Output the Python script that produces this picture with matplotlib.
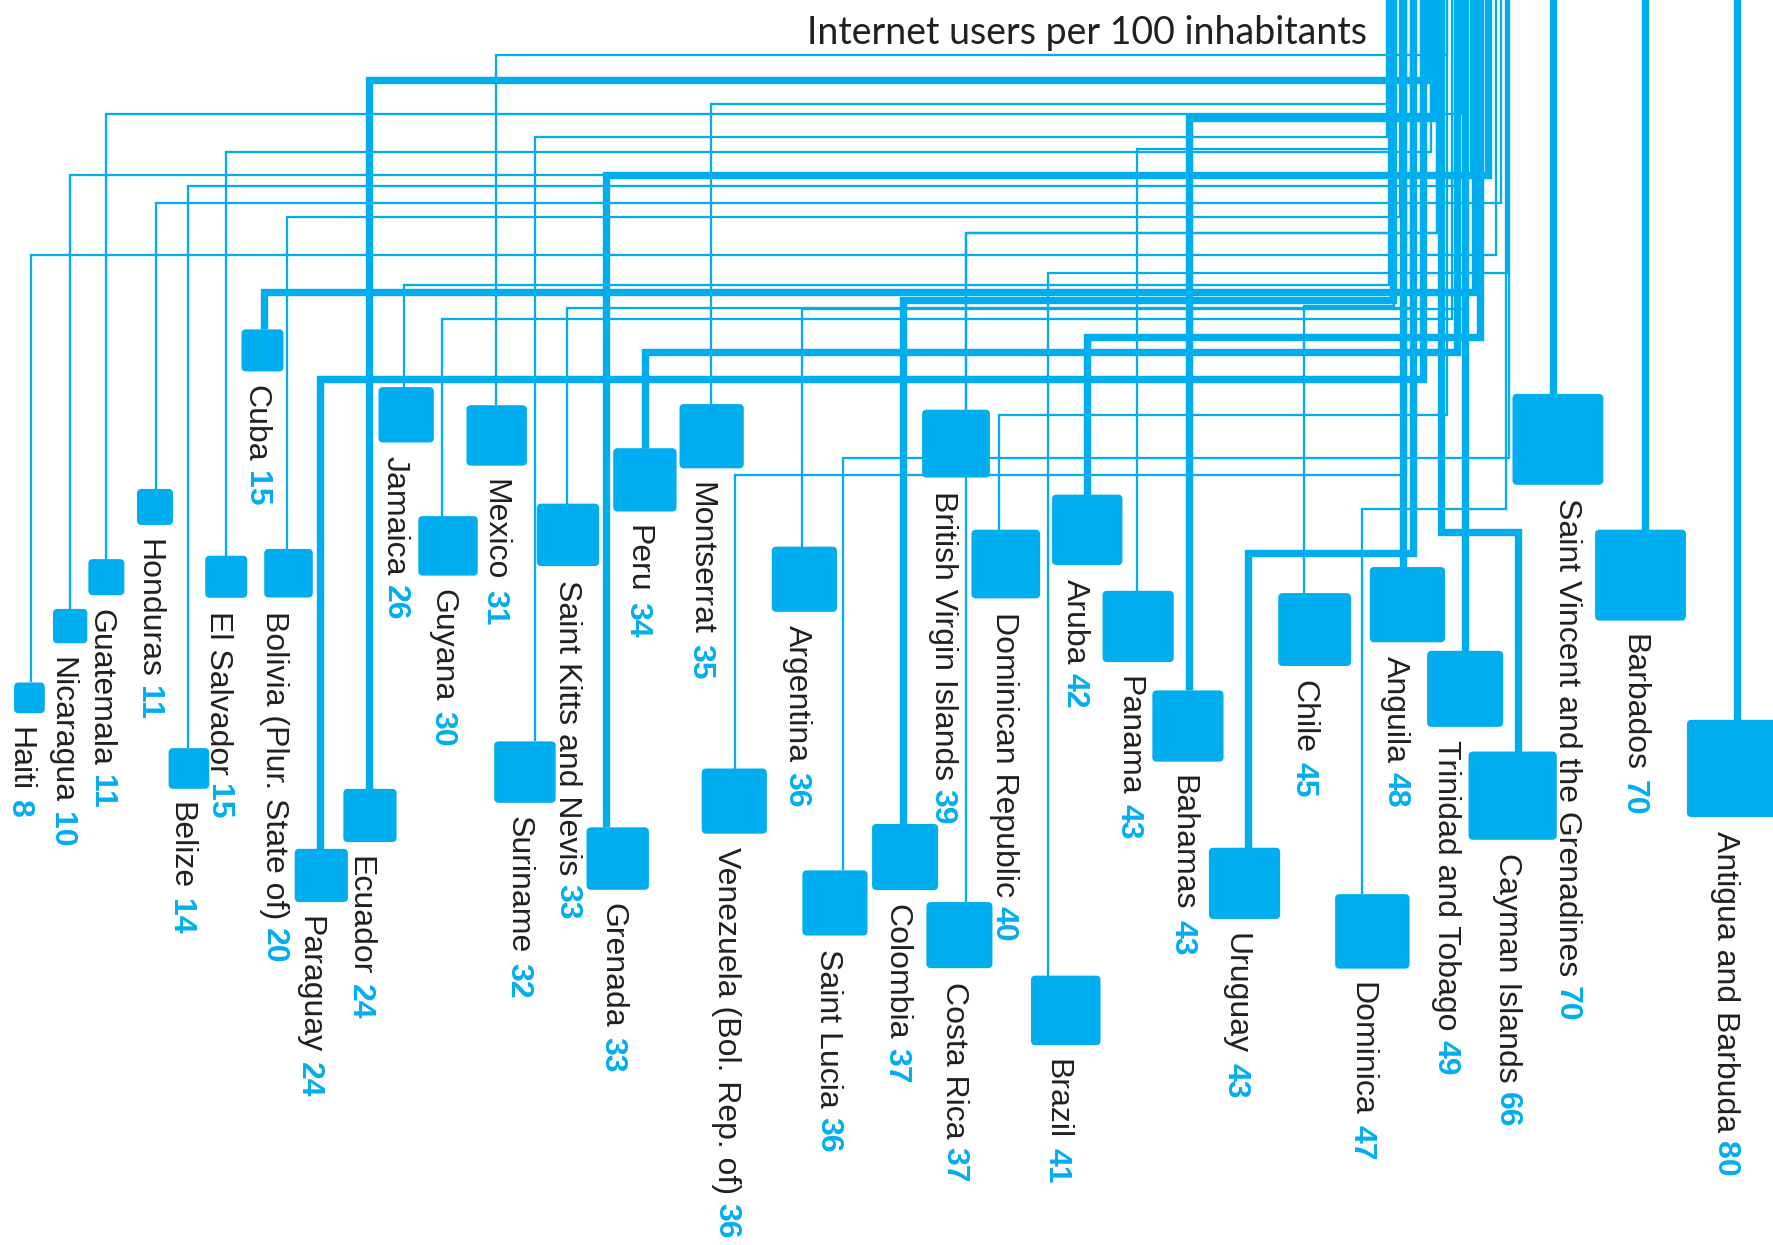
import matplotlib.pyplot as plt
from matplotlib.patches import FancyBboxPatch
import numpy as np

#===== DATA =====#
countries = ['Haiti', 'Nicaragua', 'Guatemala', 'Honduras', 'Belize', 'El Salvador',
             'Cuba', 'Bolivia (Plur. State of)', 'Paraguay', 'Ecuador', 'Jamaica',
             'Guyana', 'Mexico', 'Suriname', 'Saint Kitts and Nevis', 'Grenada',
             'Peru', 'Montserrat', 'Argentina', 'Venezuela (Bol. Rep. of)',
             'Saint Lucia', 'Colombia', 'British Virgin Islands', 'Costa Rica',
             'Dominican Republic', 'Brazil', 'Aruba', 'Panama', 'Bahamas', 'Uruguay',
             'Chile', 'Dominica', 'Anguila', 'Trinidad and Tobago', 'Cayman Islands',
             'Saint Vincent and the Grenadines', 'Barbados', 'Antigua and Barbuda']
users = [8, 10, 11, 11, 14, 15, 15, 20, 24, 24, 26, 30, 31, 32, 33, 33, 34, 35, 36, 36,
         36, 37, 39, 37, 40, 41, 42, 43, 43, 43, 45, 47, 48, 49, 66, 70, 70, 80]

#===== LAYOUT (pixels on a 1568 x 1100 grid) =====#
box_x = [26, 62, 94, 137, 167, 200, 232, 255, 284, 327, 359, 396, 439, 464, 502, 546,
         570, 629, 711, 649, 738, 800, 845, 848, 889, 942, 961, 1006, 1050, 1100,
         1162, 1213, 1244, 1295, 1337, 1377, 1450, 1534]
box_top = [603, 538, 494, 432, 661, 491, 291, 485, 750, 697, 342, 456, 358, 655, 445,
           731, 396, 357, 483, 679, 769, 728, 362, 797, 468, 862, 437, 522, 610, 749,
           524, 790, 501, 575, 664, 348, 468, 636]
line_x = [27, 62, 94, 138, 166, 200, 233, 254, 283, 326, 357, 391, 438, 473, 501, 536,
          570, 628, 709, 650, 745, 798, 854, 854, 883, 926, 961, 1005, 1051, 1103,
          1153, 1204, 1240, 1295, 1342, 1373, 1454, 1535]
turn_y = [225, 155, 101, 179, 164, 134, 258, 192, 335, 71, 252, 282, 49, 121, 272, 155,
          311, 92, 273, 420, 405, 265, 206, 206, 367, 241, 298, 132, 104, 489, 270,
          450, None, None, 470, None, None, None]
riser_x = [1322, 1300, 1292, 1327, 1286, 1265, 1304, 1237, 1258, 1262, 1228, 1283,
           1279, 1226, 1247, 1315, 1288, 1234, 1297, 1243, 1334, 1231, 1270, 1270,
           1279, 1333, 1308, 1230, 1267, 1249, 1232, 1331, 1240, 1295, 1274, 1373,
           1454, 1535]
heavy = [0, 0, 0, 0, 0, 0, 1, 0, 1, 1, 0, 0, 0, 0, 0, 1, 1, 0, 0, 0, 0, 1, 0, 0, 0, 0,
         1, 0, 1, 1, 0, 0, 1, 1, 1, 1, 1, 1]
label_x = [10, 47, 82, 124, 152, 186, 219, 235, 266, 311, 342, 384, 430, 451, 494,
           534, 556, 612, 697, 635, 725, 785, 826, 836, 880, 927, 943, 990, 1038,
           1085, 1145, 1196, 1226, 1271, 1325, 1378, 1437, 1518]

BLUE = '#00aeef'
INK = '#231f20'

fig = plt.figure(figsize=(17.74, 12.45), dpi=100)
ax = fig.add_axes([0, 0, 1, 1])
ax.set_xlim(0, 1568)
ax.set_ylim(1100, 0)
ax.axis('off')

# connectors: up from the box, across, then up to the top edge
for i in range(len(countries)):
    lw = 5.3 if heavy[i] else 1.65
    if turn_y[i] is None:
        xs = [line_x[i], line_x[i]]
        ys = [box_top[i], -10]
    else:
        xs = [line_x[i], line_x[i], riser_x[i], riser_x[i]]
        ys = [box_top[i], turn_y[i], turn_y[i], -10]
    ax.plot(xs, ys, color=BLUE, lw=lw, solid_joinstyle='miter',
            solid_capstyle='butt', zorder=2 + heavy[i])

# boxes, side ~ sqrt(value)
sides = 9.6 * np.sqrt(np.array(users, dtype=float))
for i in range(len(countries)):
    s = sides[i]
    ax.add_patch(FancyBboxPatch((box_x[i] - s / 2, box_top[i]), s, s,
                                boxstyle="round,pad=0,rounding_size=4",
                                fc=BLUE, ec='none', zorder=5))

# labels: name in black, value in bold blue right after it
renderer = fig.canvas.get_renderer()
inv = ax.transData.inverted()
for i in range(len(countries)):
    tx = label_x[i]
    ty = box_top[i] + sides[i] + 12
    t = ax.text(tx, ty, countries[i], rotation=-90, rotation_mode='anchor',
                ha='left', va='baseline', fontsize=23, color=INK,
                family='Liberation Sans', zorder=6)
    bb = t.get_window_extent(renderer)
    y_end = inv.transform((0, bb.y0))[1]
    ax.text(tx, y_end + 8, str(users[i]), rotation=-90, rotation_mode='anchor',
            ha='left', va='baseline', fontsize=23, color=BLUE, fontweight='bold',
            family='Liberation Sans', zorder=6)

ax.text(1208, 39, 'Internet users per 100 inhabitants', ha='right', va='baseline',
        fontsize=27, color=INK, family='Lato', zorder=6)

fig.savefig('out.png', dpi=100)
